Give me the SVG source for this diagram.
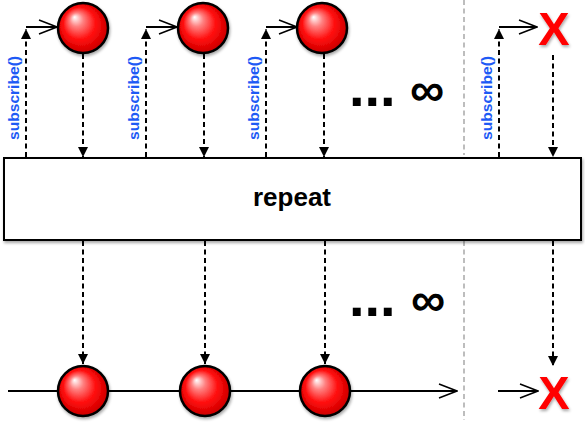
<svg xmlns="http://www.w3.org/2000/svg" width="585" height="423" viewBox="0 0 585 423">
<defs>
<radialGradient id="ballGrad" cx="0.5" cy="0.5" r="0.55" fx="0.33" fy="0.28">
<stop offset="0" stop-color="#ffffff"/>
<stop offset="0.25" stop-color="#ff8080"/>
<stop offset="0.6" stop-color="#ff0a0a"/>
<stop offset="1" stop-color="#c00000"/>
</radialGradient>
<filter id="shadow" x="-30%" y="-30%" width="160%" height="160%">
<feGaussianBlur in="SourceAlpha" stdDeviation="1.5"/>
<feOffset dx="1" dy="2" result="b"/>
<feComponentTransfer><feFuncA type="linear" slope="0.35"/></feComponentTransfer>
<feMerge><feMergeNode/><feMergeNode in="SourceGraphic"/></feMerge>
</filter>
<marker id="fill" viewBox="0 0 10 10" refX="10" refY="5" markerWidth="5" markerHeight="5" orient="auto" markerUnits="strokeWidth">
<path d="M0,0 L10,5 L0,10 z" fill="#000"/>
</marker>
<marker id="open" viewBox="0 0 20 16" refX="19" refY="8" markerWidth="10" markerHeight="8" orient="auto" markerUnits="strokeWidth">
<path d="M1,1 L19,8 L1,15" fill="none" stroke="#000" stroke-width="1.5"/>
</marker>
</defs>
<style>
.ball{fill:url(#ballGrad);stroke:#000;stroke-width:2.5;filter:url(#shadow)}
.dash{stroke:#000;stroke-width:2;stroke-dasharray:5,3.5;fill:none}
.grey{stroke:#a8a8a8;stroke-width:1.5;stroke-dasharray:5,3.5;fill:none}
.solid{stroke:#000;stroke-width:2;fill:none}
.sub{font-family:"Liberation Sans",Arial,sans-serif;font-weight:bold;font-size:15px;fill:#1e5af5}
.big{font-family:"Liberation Sans",Arial,sans-serif;font-weight:bold;fill:#000}
.x{font-family:"Liberation Sans",Arial,sans-serif;font-weight:bold;font-size:47px;fill:#ff0000;filter:url(#shadow)}
</style>
<rect width="585" height="423" fill="#fff"/>

<g id="separator">
<line class="grey" x1="464" y1="0" x2="464" y2="155"/>
<line class="grey" x1="464" y1="241" x2="464" y2="420"/>
</g>

<g id="connectors">
<line class="dash" x1="26" y1="157" x2="26" y2="29" marker-end="url(#fill)"/>
<line class="dash" x1="146" y1="157" x2="146" y2="29" marker-end="url(#fill)"/>
<line class="dash" x1="266" y1="157" x2="266" y2="29" marker-end="url(#fill)"/>
<line class="dash" x1="499" y1="157" x2="499" y2="29" marker-end="url(#fill)"/>
<line class="solid" x1="26" y1="27" x2="57" y2="27" marker-end="url(#open)"/>
<line class="solid" x1="146" y1="27" x2="177" y2="27" marker-end="url(#open)"/>
<line class="solid" x1="266" y1="27" x2="297" y2="27" marker-end="url(#open)"/>
<line class="solid" x1="499" y1="27" x2="537" y2="27" marker-end="url(#open)"/>
<line class="dash" x1="83" y1="54" x2="83" y2="157" marker-end="url(#fill)"/>
<line class="dash" x1="204" y1="54" x2="204" y2="157" marker-end="url(#fill)"/>
<line class="dash" x1="324" y1="54" x2="324" y2="157" marker-end="url(#fill)"/>
<line class="dash" x1="553" y1="55" x2="553" y2="157" marker-end="url(#fill)"/>
<line class="dash" x1="83" y1="241" x2="83" y2="364" marker-end="url(#fill)"/>
<line class="dash" x1="205" y1="241" x2="205" y2="364" marker-end="url(#fill)"/>
<line class="dash" x1="325" y1="241" x2="325" y2="364" marker-end="url(#fill)"/>
<line class="dash" x1="553" y1="241" x2="553" y2="366" marker-end="url(#fill)"/>
<line class="solid" x1="8" y1="391" x2="457" y2="391" marker-end="url(#open)"/>
<line class="solid" x1="498" y1="391" x2="538" y2="391" marker-end="url(#open)"/>
</g>

<g id="subscribe-labels">
<text class="sub" transform="translate(19,98) rotate(-90)" text-anchor="middle" textLength="84" lengthAdjust="spacingAndGlyphs">subscribe()</text>
<text class="sub" transform="translate(139,98) rotate(-90)" text-anchor="middle" textLength="84" lengthAdjust="spacingAndGlyphs">subscribe()</text>
<text class="sub" transform="translate(259,98) rotate(-90)" text-anchor="middle" textLength="84" lengthAdjust="spacingAndGlyphs">subscribe()</text>
<text class="sub" transform="translate(492,98) rotate(-90)" text-anchor="middle" textLength="84" lengthAdjust="spacingAndGlyphs">subscribe()</text>
</g>

<g id="source1"><circle class="ball" cx="83" cy="28" r="25"/></g>
<g id="source2"><circle class="ball" cx="203" cy="28" r="25"/></g>
<g id="source3"><circle class="ball" cx="322" cy="28" r="25"/></g>
<g id="source-error"><text class="x" x="554" y="45" text-anchor="middle">X</text></g>

<g id="top-ellipsis">
<text class="big" x="349" y="106" font-size="56">...</text>
<text class="big" x="427" y="106" font-size="48" text-anchor="middle">∞</text>
</g>

<g id="repeat">
<rect x="4" y="158" width="577" height="82" fill="#fff" stroke="#000" stroke-width="2" filter="url(#shadow)"/>
<text class="big" x="292" y="206" font-size="26" text-anchor="middle">repeat</text>
</g>

<g id="bottom-ellipsis">
<text class="big" x="349" y="316" font-size="56">...</text>
<text class="big" x="428" y="316" font-size="48" text-anchor="middle">∞</text>
</g>

<g id="out1"><circle class="ball" cx="83" cy="391" r="25"/></g>
<g id="out2"><circle class="ball" cx="205" cy="391" r="25"/></g>
<g id="out3"><circle class="ball" cx="325" cy="391" r="25"/></g>
<g id="out-error"><text class="x" x="554" y="409" text-anchor="middle">X</text></g>
</svg>
